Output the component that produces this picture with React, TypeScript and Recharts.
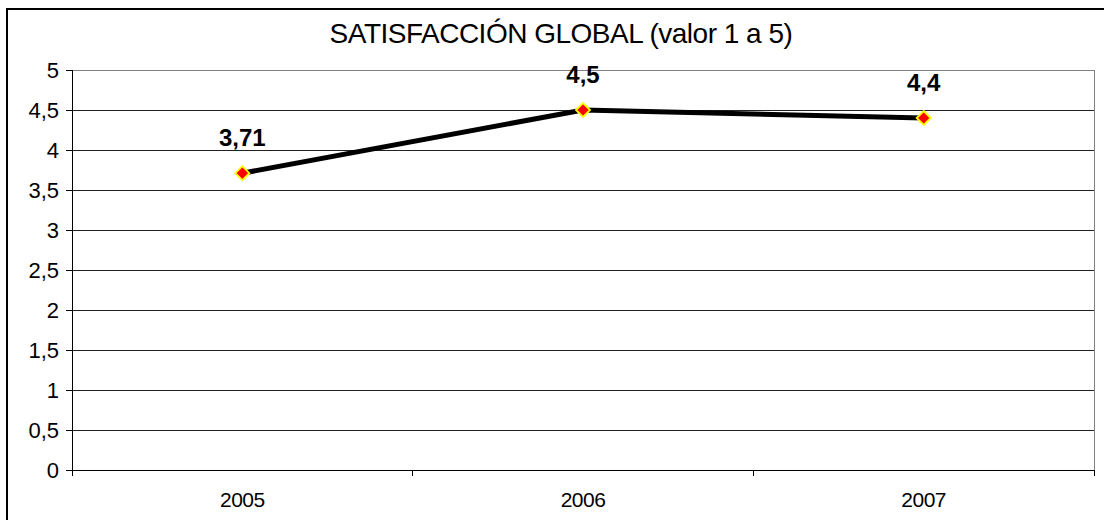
import { LineChart, Line, XAxis, YAxis, CartesianGrid, ReferenceLine, LabelList } from "recharts";

const YEARS = ["2005", "2006", "2007"];
const SATISFACTION = [3.71, 4.5, 4.4];
const Y_TICKS = [0, 0.5, 1, 1.5, 2, 2.5, 3, 3.5, 4, 4.5, 5];
const X_TICKS = [0, 0.5, 1, 1.5, 2, 2.5, 3];

const FONT = "'Liberation Sans', Arial, sans-serif";

const data = YEARS.map((year, i) => ({ x: i + 0.5, year, value: SATISFACTION[i] }));

const comma = (v: number) => String(v).replace(".", ",");

function XTick({ x, y, payload }: any) {
  const v = payload.value as number;
  if (Number.isInteger(v)) {
    return <line x1={x} x2={x} y1={y} y2={y + 6} stroke="#000" shapeRendering="crispEdges" />;
  }
  return (
    <text x={x} y={y + 37} textAnchor="middle" fontSize={21} letterSpacing={-0.5} fontFamily={FONT} fill="#000">
      {YEARS[Math.floor(v)]}
    </text>
  );
}

function Diamond({ cx, cy }: any) {
  const r = 7;
  return (
    <path
      d={`M${cx},${cy - r}L${cx + r},${cy}L${cx},${cy + r}L${cx - r},${cy}Z`}
      fill="#ff0000"
      stroke="#ffff00"
      strokeWidth={1.8}
    />
  );
}

export default function App() {
  return (
    <div style={{ position: "absolute", left: 0, top: 0, width: 1104, height: 520, overflow: "hidden", background: "#fff" }}>
      <div style={{ position: "absolute", left: 6, top: 8, width: 1300, height: 700, border: "2px solid #000" }} />
      <div
        style={{
          position: "absolute",
          left: 261,
          top: 20,
          width: 600,
          textAlign: "center",
          fontFamily: FONT,
          fontSize: 28,
          lineHeight: "27px",
          letterSpacing: -0.5,
          color: "#000",
        }}
      >
        SATISFACCIÓN GLOBAL (valor 1 a 5)
      </div>
      <div style={{ position: "absolute", left: 0, top: 0 }}>
        <LineChart width={1104} height={520} data={data} margin={{ top: 70, right: 10, left: 12, bottom: 20 }}>
          <CartesianGrid vertical={false} stroke="#222" shapeRendering="crispEdges" />
          <ReferenceLine y={5} stroke="#808080" shapeRendering="crispEdges" />
          <ReferenceLine x={3} stroke="#808080" shapeRendering="crispEdges" />
          <XAxis
            dataKey="x"
            type="number"
            domain={[0, 3]}
            ticks={X_TICKS}
            interval={0}
            height={30}
            tickLine={false}
            tickSize={0}
            tickMargin={0}
            axisLine={{ stroke: "#000", shapeRendering: "crispEdges" }}
            tick={<XTick />}
          />
          <YAxis
            domain={[0, 5]}
            ticks={Y_TICKS}
            interval={0}
            width={60}
            tickSize={6}
            tickMargin={7}
            tickFormatter={comma}
            tickLine={{ stroke: "#000", shapeRendering: "crispEdges" }}
            axisLine={{ stroke: "#000", shapeRendering: "crispEdges" }}
            tick={{ fill: "#000", fontSize: 22, fontFamily: FONT }}
          />
          <Line
            dataKey="value"
            stroke="#000"
            strokeWidth={5}
            dot={<Diamond />}
            activeDot={false}
            isAnimationActive={false}
          >
            <LabelList
              dataKey="value"
              position="top"
              offset={27}
              formatter={(v: any) => comma(v)}
              style={{ fontSize: 24, fontWeight: "bold", fontFamily: FONT, fill: "#000" }}
            />
          </Line>
        </LineChart>
      </div>
    </div>
  );
}
